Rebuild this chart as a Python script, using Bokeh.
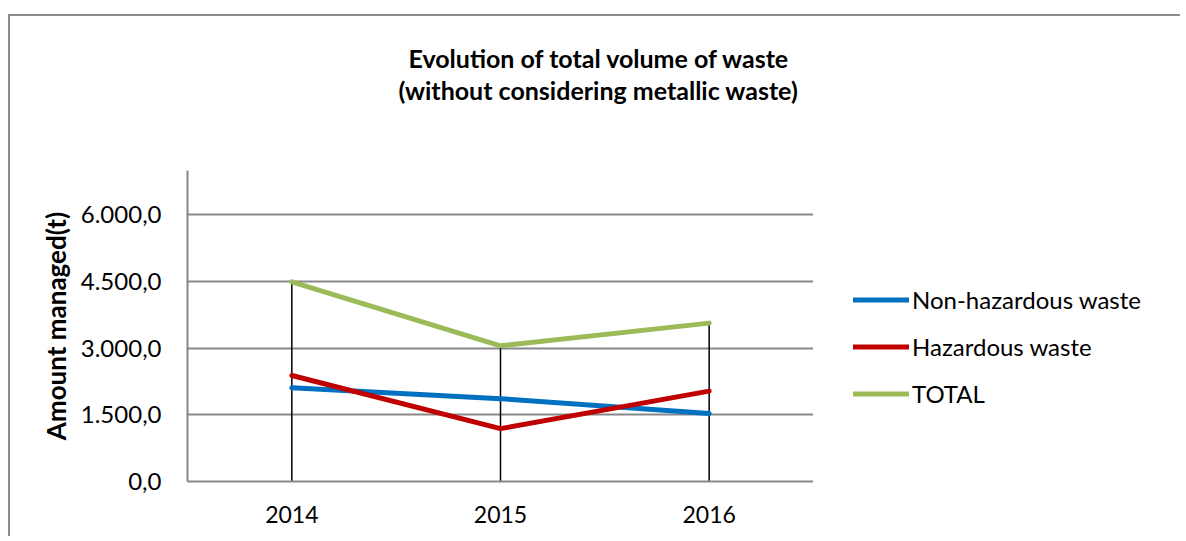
from bokeh.plotting import figure
from bokeh.layouts import row
from bokeh.models import (FactorRange, Range1d, FixedTicker, CustomJSTickFormatter,
                          Legend, LegendItem, Title)
from bokeh.embed import file_html
from bokeh.resources import INLINE

years = ["2014", "2015", "2016"]
non_hazardous = [2108, 1865, 1530]
hazardous = [2385, 1190, 2035]
total = [4495, 3055, 3565]
y_ticks = [0, 1500, 3000, 4500, 6000]
series_names = ["Non-hazardous waste", "Hazardous waste", "TOTAL"]
series_colors = ["#0070C0", "#C00000", "#9BBB59"]
title_lines = ["Evolution of total volume of waste", "(without considering metallic waste)"]

FONT = "Lato"
W_MAIN, W_LEG, H = 803, 367, 520

p = figure(width=W_MAIN, height=H, x_range=FactorRange(*years, range_padding=0),
           y_range=Range1d(0, 7000), output_backend="svg", toolbar_location=None,
           min_border_left=177, min_border_right=0, min_border_top=154, min_border_bottom=H - 465)
p.outline_line_color = None
p.background_fill_color = "white"
p.border_fill_color = "white"

# drop lines
drop_top = [max(a, b, c) for a, b, c in zip(non_hazardous, hazardous, total)]
p.segment(x0=years, y0=[0] * len(years), x1=years, y1=drop_top, line_color="black", line_width=1.5)

for vals, col in zip([non_hazardous, hazardous, total], series_colors):
    p.line(x=years, y=vals, line_color=col, line_width=5, line_cap="round", line_join="round")

# axes
p.yaxis.ticker = FixedTicker(ticks=y_ticks)
p.yaxis.formatter = CustomJSTickFormatter(code="""
const s = tick.toFixed(1); const parts = s.split('.');
return parts[0].replace(/\\B(?=(\\d{3})+(?!\\d))/g, '.') + ',' + parts[1];
""")
for ax in (p.xaxis, p.yaxis):
    ax.axis_line_color = "#878787"
    ax.axis_line_width = 2
    ax.major_tick_line_color = None
    ax.minor_tick_line_color = None
    ax.major_label_text_font = FONT
    ax.major_label_text_color = "black"
p.yaxis.major_label_text_font_size = "24px"
p.xaxis.major_label_text_font_size = "23px"
p.yaxis.major_label_standoff = 20
p.xaxis.major_label_standoff = 18
p.yaxis.axis_label = "Amount managed(t)"
p.yaxis.axis_label_text_font = FONT
p.yaxis.axis_label_text_font_style = "bold"
p.yaxis.axis_label_text_font_size = "26px"
p.yaxis.axis_label_text_color = "black"
p.yaxis.axis_label_standoff = 6

p.xgrid.grid_line_color = None
p.ygrid.grid_line_color = "#878787"
p.ygrid.grid_line_width = 2

# titles: spacer nearest the plot, then second line, then first line
p.add_layout(Title(text=" ", standoff=53, text_font_size="10px"), "above")
p.add_layout(Title(text=title_lines[1], align="left", offset=211, standoff=0,
                   text_font=FONT, text_font_style="bold", text_font_size="25px",
                   text_color="black"), "above")
p.add_layout(Title(text=title_lines[0], align="left", offset=221, standoff=0,
                   text_font=FONT, text_font_style="bold", text_font_size="25px",
                   text_color="black"), "above")

# legend panel (separate figure to the right, legend inside its frame)
pl = figure(width=W_LEG, height=H, x_range=Range1d(0, 1), y_range=Range1d(0, 1),
            output_backend="svg", toolbar_location=None,
            min_border_left=0, min_border_right=0, min_border_top=0, min_border_bottom=0)
pl.axis.visible = False
pl.grid.visible = False
pl.outline_line_color = None
pl.border_fill_color = "white"
# single-point proxies: draw nothing in the frame, only serve the legend keys
leg_renderers = [pl.line(x=[-1], y=[-1], line_color=c, line_width=5, line_cap="round")
                 for c in series_colors]
legend = Legend(items=[LegendItem(label=n, renderers=[r]) for n, r in zip(series_names, leg_renderers)],
                location=(40, 73), orientation="vertical", padding=0, margin=0,
                spacing=18, glyph_width=56, glyph_height=29, label_height=29, label_standoff=3,
                label_text_font=FONT, label_text_font_size="24px", label_text_color="black",
                border_line_color=None, background_fill_alpha=0)
pl.add_layout(legend, "center")

layout = row(p, pl)
layout.margin = (14, 0, 0, 8)
layout.styles = {"border-top": "2px solid #8c8c8c", "border-left": "2px solid #8c8c8c"}

open("out.html", "w").write(file_html(layout, INLINE))
